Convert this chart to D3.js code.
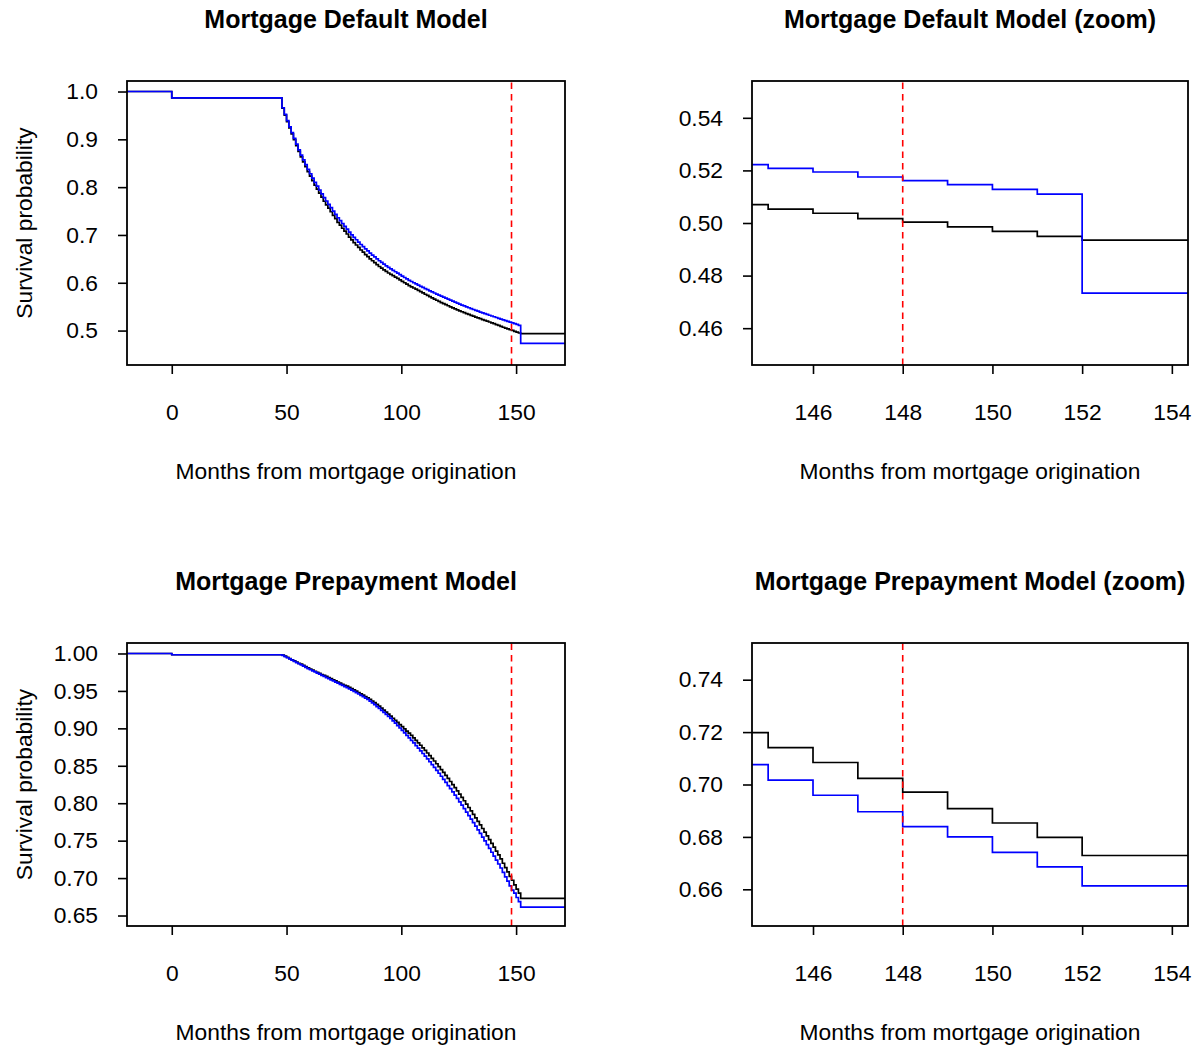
<!DOCTYPE html>
<html><head><meta charset="utf-8">
<script src="https://cdn.jsdelivr.net/npm/d3@7"></script>
<style>body{margin:0;background:#fff} text{font-family:"Liberation Sans",Arial,Helvetica,sans-serif}</style>
</head><body><svg id="c" width="1201" height="1048"></svg>
<script>
// ---- data ----
const months = [-20, 0,
  48,49,50,51,52,53,54,55,56,57,58,59,60,61,62,63,64,65,66,67,68,69,70,71,72,73,74,75,76,77,78,79,80,
  81,82,83,84,85,86,87,88,89,90,91,92,93,94,95,96,97,98,99,100,101,102,103,104,105,106,107,108,109,110,
  111,112,113,114,115,116,117,118,119,120,121,122,123,124,125,126,127,128,129,130,131,132,133,134,135,
  136,137,138,139,140,141,142,143,144,145,146,147,148,149,150,151,152, 175];

const defaultBlue = [1.0, 0.9869,
  0.966,0.952,0.939,0.926,0.914,0.902,0.890,0.878,0.867,0.857,0.847,0.837,0.828,0.819,0.810,0.802,0.794,0.786,
  0.778,0.771,0.764,0.757,0.750,0.743,0.736,0.730,0.724,0.718,0.712,0.706,0.700,0.695,0.690,
  0.685,0.680,0.6755,0.671,0.6665,0.662,0.658,0.654,0.650,0.646,0.6425,0.639,0.6355,0.632,0.629,
  0.626,0.623,0.620,0.617,0.614,0.611,0.608,0.6052,0.6026,0.600,0.5975,0.595,0.5926,0.5902,0.5878,
  0.5855,0.5832,0.5809,0.5786,0.5764,0.5742,0.5720,0.5698,0.5677,0.5656,0.5635,0.5614,0.5594,0.5574,0.5554,
  0.5534,0.5515,0.5496,0.5477,0.5459,0.5441,0.5423,0.5405,0.5388,0.5371,0.5354,0.5337,0.5321,0.5305,0.5289,
  0.5273,0.5256,0.5239,0.5222,0.5208,0.5194,0.5175,0.5161,0.5146,0.5128,0.5110,0.4733, 0.4733];

const defaultBlack = [1.0, 0.9869,
  0.965,0.9505,0.937,0.924,0.9115,0.8995,0.887,0.875,0.8635,0.853,0.843,0.8325,0.823,0.8135,0.804,0.796,0.7875,0.779,
  0.7705,0.763,0.756,0.7485,0.741,0.734,0.7265,0.7205,0.714,0.708,0.702,0.6955,0.6895,0.684,0.679,
  0.674,0.6685,0.664,0.659,0.6545,0.650,0.646,0.642,0.638,0.634,0.6305,0.627,0.6237,0.6204,0.6176,
  0.6148,0.612,0.609,0.606,0.603,0.600,0.597,0.5942,0.5916,0.589,0.5865,0.584,0.5814,0.5787,0.576,
  0.5735,0.5709,0.5683,0.5658,0.5634,0.561,0.5586,0.5563,0.5541,0.5519,0.5497,0.5475,0.5454,0.5434,0.5414,
  0.5394,0.5375,0.5356,0.5337,0.5319,0.5301,0.5283,0.5265,0.5248,0.5231,0.5214,0.5196,0.5179,0.5162,0.5144,
  0.5126,0.5107,0.5088,0.5070,0.5053,0.5037,0.5017,0.5003,0.4985,0.4968,0.4949,0.4935, 0.4935];

const prepayBlue = [1.0, 0.9983,
  0.9975,0.9959,0.9943,0.9927,0.9911,0.9895,0.9879,0.9863,0.9847,0.9831,0.9815,0.9799,0.9783,0.9768,0.9753,0.9738,0.9723,0.9708,
  0.9693,0.9678,0.9663,0.9648,0.9633,0.9618,0.9603,0.9588,0.9573,0.9558,0.9543,0.9527,0.9510,0.9493,0.9476,
  0.9459,0.9441,0.9423,0.9405,0.9386,0.9364,0.9340,0.9316,0.9291,0.9266,0.9240,0.9214,0.9187,0.9160,0.9133,
  0.9101,0.9069,0.9037,0.9005,0.8972,0.8939,0.8906,0.8873,0.8839,0.8805,0.8770,0.8735,0.8700,0.8664,0.8628,
  0.8591,0.8554,0.8516,0.8478,0.8439,0.8400,0.8360,0.8319,0.8278,0.8236,0.8194,0.8151,0.8108,0.8064,0.8019,
  0.7974,0.7928,0.7882,0.7835,0.7788,0.7741,0.7693,0.7645,0.7596,0.7547,0.7497,0.7447,0.7396,0.7345,0.7293,
  0.7241,0.7188,0.7135,0.7076,0.7017,0.6959,0.6896,0.6839,0.6800,0.6741,0.6686,0.6613, 0.6613];

const prepayBlack = [1.0, 0.9983,
  0.9980,0.9964,0.9948,0.9932,0.9916,0.9900,0.9884,0.9868,0.9857,0.9841,0.9825,0.9809,0.9793,0.9778,0.9763,0.9748,0.9733,0.9718,
  0.9708,0.9693,0.9678,0.9663,0.9648,0.9633,0.9618,0.9603,0.9588,0.9573,0.9563,0.9547,0.9530,0.9513,0.9496,
  0.9479,0.9461,0.9443,0.9425,0.9406,0.9389,0.9365,0.9343,0.9319,0.9296,0.9270,0.9244,0.9217,0.9190,0.9163,
  0.9135,0.9107,0.9079,0.9051,0.9022,0.8993,0.8964,0.8935,0.8905,0.8873,0.8840,0.8807,0.8774,0.8740,0.8706,
  0.8671,0.8636,0.8600,0.8564,0.8527,0.8489,0.8450,0.8411,0.8371,0.8331,0.8290,0.8249,0.8207,0.8165,0.8121,
  0.8078,0.8033,0.7989,0.7943,0.7898,0.7852,0.7805,0.7758,0.7710,0.7662,0.7613,0.7564,0.7514,0.7464,0.7413,
  0.7361,0.7309,0.7256,0.7198,0.7141,0.7084,0.7023,0.6971,0.6908,0.6853,0.6798,0.6729, 0.6729];

const cutoffMonth = 148;
const mainXTicks = [0, 50, 100, 150];
const zoomXTicks = [146, 148, 150, 152, 154];
const defaultYTicks = [0.5, 0.6, 0.7, 0.8, 0.9, 1.0];
const prepayYTicks = [0.65, 0.70, 0.75, 0.80, 0.85, 0.90, 0.95, 1.00];
const defaultZoomYTicks = [0.46, 0.48, 0.50, 0.52, 0.54];
const prepayZoomYTicks = [0.66, 0.68, 0.70, 0.72, 0.74];
const xLabel = "Months from mortgage origination";
const yLabel = "Survival probability";

// ---- layout ----
const FS = 22.8, TFS = 25;
const panels = [
  {title:"Mortgage Default Model", L:127, R:565, T:81, B:365, xd:[-19.5,171.3], yd:[0.428,1.022],
   xt:mainXTicks, yt:defaultYTicks, fmt:".1f", black:defaultBlack, blue:defaultBlue, ylab:true},
  {title:"Mortgage Default Model (zoom)", L:752, R:1188, T:81, B:365, xd:[144.64,154.36], yd:[0.446,0.554],
   xt:zoomXTicks, yt:defaultZoomYTicks, fmt:".2f", black:defaultBlack, blue:defaultBlue, ylab:false},
  {title:"Mortgage Prepayment Model", L:127, R:565, T:643, B:926, xd:[-19.5,171.3], yd:[0.636,1.014],
   xt:mainXTicks, yt:prepayYTicks, fmt:".2f", black:prepayBlack, blue:prepayBlue, ylab:true},
  {title:"Mortgage Prepayment Model (zoom)", L:752, R:1188, T:643, B:926, xd:[144.64,154.36], yd:[0.646,0.754],
   xt:zoomXTicks, yt:prepayZoomYTicks, fmt:".2f", black:prepayBlack, blue:prepayBlue, ylab:false}
];

const svg = d3.select("#c");
svg.append("rect").attr("width",1201).attr("height",1048).attr("fill","#fff");

panels.forEach((p,i)=>{
  const x = d3.scaleLinear().domain(p.xd).range([p.L,p.R]);
  const y = d3.scaleLinear().domain(p.yd).range([p.B,p.T]);
  const g = svg.append("g");
  const cid = "clip"+i;
  svg.append("clipPath").attr("id",cid).append("rect")
    .attr("x",p.L).attr("y",p.T).attr("width",p.R-p.L).attr("height",p.B-p.T);

  const line = vals => d3.line().curve(d3.curveStepAfter)
    .x((d,j)=>x(months[j])).y((d,j)=>y(vals[j]))(vals);

  const lines = g.append("g").attr("clip-path",`url(#${cid})`);
  lines.append("path").attr("d",line(p.black)).attr("fill","none").attr("stroke","#000").attr("stroke-width",1.7);
  lines.append("path").attr("d",line(p.blue)).attr("fill","none").attr("stroke","#0000ff").attr("stroke-width",1.7);
  lines.append("line").attr("x1",x(cutoffMonth)).attr("x2",x(cutoffMonth)).attr("y1",p.B).attr("y2",p.T)
    .attr("stroke","#ff0000").attr("stroke-width",1.6).attr("stroke-dasharray","6.5,5");

  g.append("rect").attr("x",p.L).attr("y",p.T).attr("width",p.R-p.L).attr("height",p.B-p.T)
    .attr("fill","none").attr("stroke","#000").attr("stroke-width",1.8);

  const xa = g.append("g").attr("transform",`translate(0,${p.B})`)
    .call(d3.axisBottom(x).tickValues(p.xt).tickFormat(d3.format("d")).tickSize(9).tickPadding(30));
  const ya = g.append("g").attr("transform",`translate(${p.L},0)`)
    .call(d3.axisLeft(y).tickValues(p.yt).tickFormat(d3.format(p.fmt)).tickSize(9).tickPadding(20));
  [xa,ya].forEach(a=>{
    a.select(".domain").remove();
    a.selectAll(".tick line").attr("stroke","#000").attr("stroke-width",1.6);
    a.selectAll("text").attr("font-size",FS).attr("fill","#000")
      .attr("font-family",'"Liberation Sans",Arial,Helvetica,sans-serif');
  });

  const cx = (p.L+p.R)/2, cy=(p.T+p.B)/2;
  g.append("text").attr("x",cx).attr("y",p.T-53).attr("text-anchor","middle")
    .attr("font-size",TFS).attr("font-weight","bold").text(p.title);
  g.append("text").attr("x",cx).attr("y",p.B+114).attr("text-anchor","middle")
    .attr("font-size",FS).text(xLabel);
  if(p.ylab){
    g.append("text").attr("transform",`translate(32,${cy}) rotate(-90)`).attr("text-anchor","middle")
      .attr("font-size",FS).text(yLabel);
  }
});
</script></body></html>
